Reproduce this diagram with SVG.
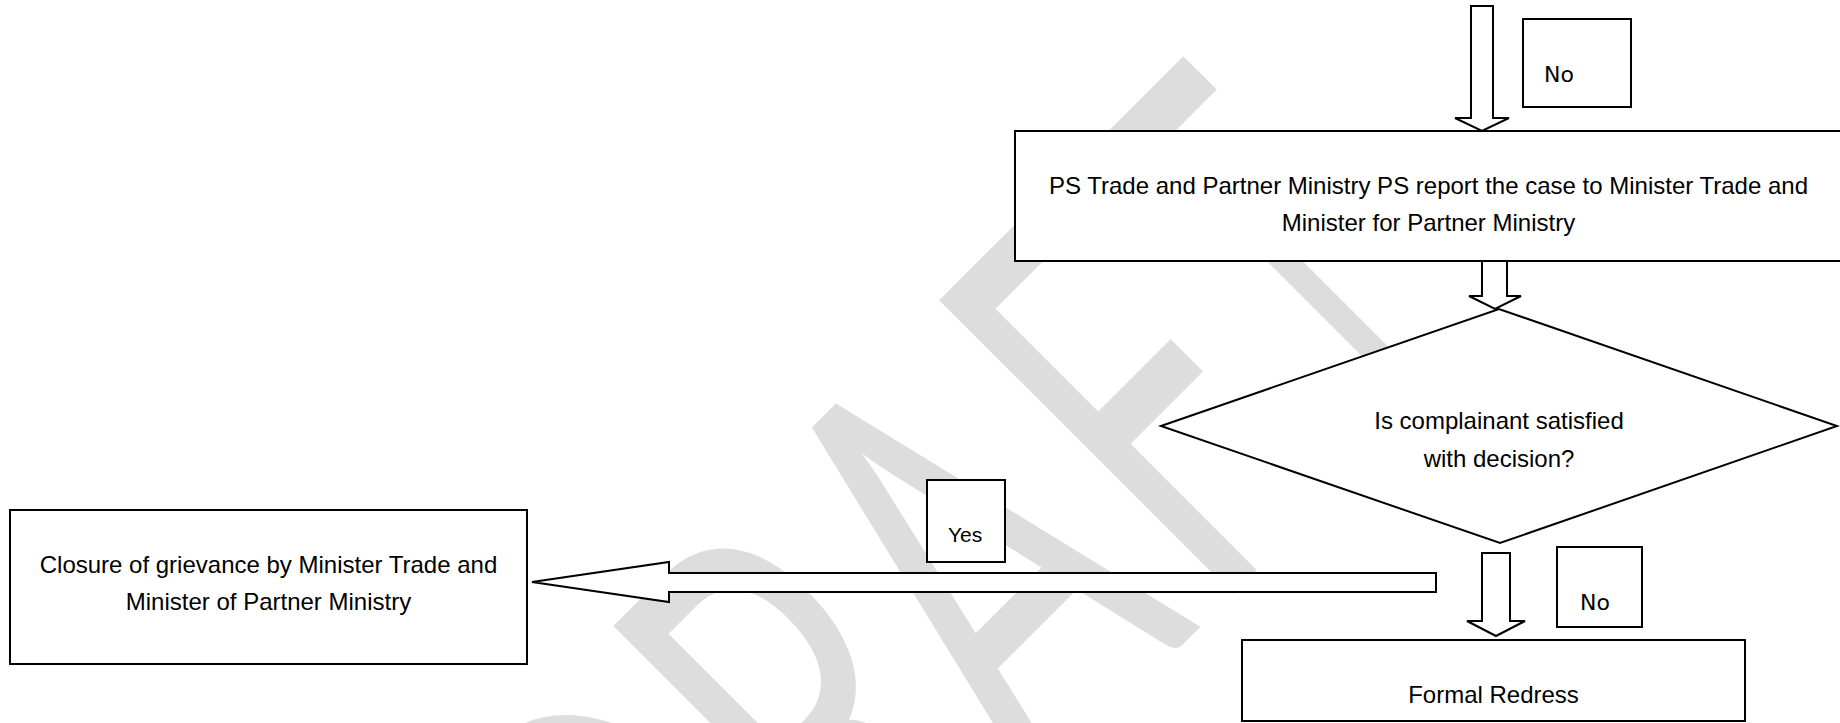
<svg xmlns="http://www.w3.org/2000/svg" width="1840" height="723" viewBox="0 0 1840 723">
  <style>
    .node { fill: #ffffff; stroke: #000000; stroke-width: 2; }
    .arrow { fill: #ffffff; stroke: #000000; stroke-width: 2; stroke-linejoin: miter; }
    .label { font-family: "Liberation Sans", Arial, sans-serif; font-size: 24px; fill: #000000; text-anchor: middle; }
    .tag { font-family: "DejaVu Sans", sans-serif; font-size: 22px; fill: #000000; }
    .tag-yes { font-family: "Liberation Sans", Arial, sans-serif; font-size: 21px; fill: #000000; }
    .watermark { font-family: Lato, "Liberation Sans", sans-serif; font-size: 580px; fill: #dddddd; }
  </style>

  <rect x="0" y="0" width="1840" height="723" fill="#ffffff"/>

  <!-- background watermark, diagonal; the last letter is set narrower -->
  <g id="watermark">
    <text class="watermark" transform="rotate(-45) scale(0.6,1)" y="1292"><tspan x="-497">D</tspan><tspan x="-68">R</tspan><tspan x="285">A</tspan><tspan x="700">F</tspan></text>
    <text class="watermark" transform="rotate(-45) scale(0.45,1)" x="1437" y="1292">T</text>
  </g>

  <!-- connectors: block arrows -->
  <g id="connectors">
    <polygon class="arrow" points="1471,6 1493,6 1493,118 1509,118 1482,131 1455,118 1471,118"/>
    <polygon class="arrow" points="1482,261 1507,261 1507,296 1521,296 1495,309 1469,296 1482,296"/>
    <polygon class="arrow" points="1482,553 1510,553 1510,621 1525,621 1496,636 1467,621 1482,621"/>
    <polygon class="arrow" points="1436,573 1436,592 669,592 669,602 532,582 669,562 669,573"/>
  </g>

  <g id="label-no-top">
    <rect class="node" x="1523" y="19" width="108" height="88"/>
    <text class="tag" x="1544" y="82">No</text>
  </g>

  <g id="report-to-ministers">
    <rect class="node" x="1015" y="131" width="828" height="130"/>
    <text class="label" x="1428.5" y="194">PS Trade and Partner Ministry PS report the case to Minister Trade and</text>
    <text class="label" x="1428.5" y="231">Minister for Partner Ministry</text>
  </g>

  <g id="decision-satisfied">
    <polygon class="node" points="1161,426 1499,309 1837,426 1500,543"/>
    <text class="label" x="1499" y="429">Is complainant satisfied</text>
    <text class="label" x="1499" y="467">with decision?</text>
  </g>

  <g id="label-yes">
    <rect class="node" x="927" y="480" width="78" height="82"/>
    <text class="tag-yes" x="948" y="542">Yes</text>
  </g>

  <g id="closure">
    <rect class="node" x="10" y="510" width="517" height="154"/>
    <text class="label" x="268.5" y="573">Closure of grievance by Minister Trade and</text>
    <text class="label" x="268.5" y="610">Minister of Partner Ministry</text>
  </g>

  <g id="label-no-bottom">
    <rect class="node" x="1557" y="547" width="85" height="80"/>
    <text class="tag" x="1580" y="610">No</text>
  </g>

  <g id="formal-redress">
    <rect class="node" x="1242" y="640" width="503" height="81"/>
    <text class="label" x="1493.5" y="703">Formal Redress</text>
  </g>
</svg>
